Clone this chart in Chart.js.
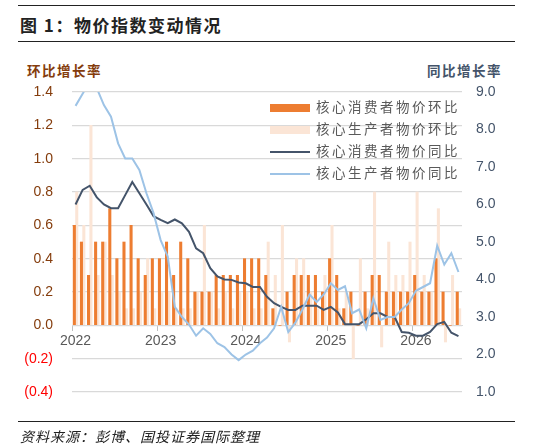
<!DOCTYPE html>
<html><head><meta charset="utf-8">
<script src="https://cdn.jsdelivr.net/npm/chart.js@4"></script>
<style>
body{margin:0;width:533px;height:447px;background:#fff;position:relative;overflow:hidden;font-family:"Noto Sans CJK SC",sans-serif}
.abs{position:absolute}
#c{position:absolute;left:0;top:0}
.lg{position:absolute;left:270px;font-size:13.5px;color:#595959;letter-spacing:2.5px;white-space:nowrap}
.sw{display:inline-block;width:40px;vertical-align:middle;margin-right:6px}
</style></head><body>
<div class="abs" style="left:18px;top:5px;width:497px;border-top:1.3px solid #222"></div>
<div class="abs" style="left:20px;top:12px;font-size:17px;font-weight:bold;color:#222;letter-spacing:1.5px">图 1：物价指数变动情况</div>
<div class="abs" style="left:18px;top:41px;width:497px;border-top:1.3px solid #222"></div>
<div class="abs" style="left:27px;top:60px;font-size:13.5px;font-weight:bold;color:#843C0C;letter-spacing:1.5px">环比增长率</div>
<div class="abs" style="left:427px;top:60px;font-size:13.5px;font-weight:bold;color:#44546A;letter-spacing:1.5px">同比增长率</div>
<canvas id="c" width="533" height="447"></canvas>
<div class="lg" style="top:96px"><span class="sw" style="height:8px;background:#ED7D31"></span>核心消费者物价环比</div>
<div class="lg" style="top:118px"><span class="sw" style="height:8px;background:#FBE5D6"></span>核心生产者物价环比</div>
<div class="lg" style="top:140px"><span class="sw" style="height:2px;background:#44546A"></span>核心消费者物价同比</div>
<div class="lg" style="top:162px"><span class="sw" style="height:2px;background:#9DC3E6"></span>核心生产者物价同比</div>
<div class="abs" style="left:18px;top:421px;width:497px;border-top:1.3px solid #222"></div>
<div class="abs" style="left:20px;top:426px;font-size:14px;font-style:italic;color:#222;letter-spacing:1px">资料来源：彭博、国投证券国际整理</div>
<script>
const years = ['2022','2023','2024','2025','2026'];
const months = [];
for (const y of years) for (let m = 1; m <= 12; m++) months.push(y + '-' + m);
const labels = months.slice(0, 55);
const cpiMoM = [0.6,0.5,0.3,0.5,0.5,0.7,0.4,0.5,0.6,0.4,0.3,0.4,
  0.4,0.5,0.3,0.5,0.4,0.2,0.2,0.2,0.3,0.3,0.3,0.3,
  0.4,0.4,0.4,0.3,0.1,0,0.2,0.3,0.3,0.3,0.3,0.2,
  0.4,0.3,0.1,0.2,0,0.2,0.3,0.3,0.2,0.2,0.2,0.2,
  0.3,0.2,0.2,0.4,0.2,0,0.2];
const ppiMoM = [0.8,0.6,1.2,0.3,0.5,0.3,0.2,0.1,0.1,0.2,0.4,0.1,
  0.2,0.2,0.1,0.1,0.1,0.2,0.6,0.2,0.1,0.2,0.1,0.2,
  0.2,0.1,0.1,0.5,0.3,0.6,-0.1,0.4,0.4,0.2,0.1,0.3,
  0.6,0.1,0.2,-0.2,0.4,0.1,0.8,-0.13,0.5,0.3,0.3,0.5,
  0.8,0.3,0.2,0.7,-0.1,0.3,0.1];
const cpiYoY = [6.0,6.39,6.5,6.19,6.0,5.9,5.9,6.25,6.6,6.3,6.0,5.69,
  5.59,5.5,5.6,5.5,5.27,4.83,4.7,4.3,4.08,4.0,3.99,3.92,
  3.9,3.8,3.8,3.54,3.37,3.27,3.19,3.19,3.3,3.3,3.3,3.19,
  3.27,3.12,2.81,2.81,2.81,2.94,3.1,3.1,3.0,3.0,2.6,2.58,
  2.5,2.5,2.6,2.81,2.87,2.58,2.49];
const ppiYoY = [8.63,8.95,9.3,9.1,8.65,8.34,7.63,7.23,7.23,6.92,6.3,5.77,
  5.05,4.61,3.27,3.0,2.8,2.5,2.7,2.55,2.3,2.2,2.0,1.85,
  2.0,2.1,2.3,2.45,2.7,3.27,2.6,2.85,3.2,3.6,3.4,3.6,
  3.9,3.72,3.82,3.1,3.2,2.7,3.5,2.92,3.0,3.0,3.2,3.37,
  3.7,3.8,3.9,4.9,4.4,4.7,4.2];
const leftTicks = [-0.4,-0.2,0,0.2,0.4,0.6,0.8,1.0,1.2,1.4];

new Chart(document.getElementById('c'), {
  data: {
    labels,
    datasets: [
      {type:'line', data:cpiYoY, yAxisID:'y1', borderColor:'#44546A', borderWidth:2, pointRadius:0, tension:0, order:1},
      {type:'line', data:ppiYoY, yAxisID:'y1', borderColor:'#9DC3E6', borderWidth:2, pointRadius:0, tension:0, order:0},
      {type:'bar', data:cpiMoM, yAxisID:'y', backgroundColor:'#ED7D31', barThickness:2.4, categoryPercentage:0.8, order:3},
      {type:'bar', data:ppiMoM, yAxisID:'y', backgroundColor:'#FBE5D6', barThickness:2.4, categoryPercentage:0.8, order:4}
    ]
  },
  options: {
    responsive:false, animation:false,
    layout:{padding:{left:0,right:0,top:92,bottom:55}},
    plugins:{legend:{display:false}, tooltip:{enabled:false}},
    scales:{
      x:{position:{y:0}, offset:true,
        grid:{offset:true, drawOnChartArea:false, tickLength:5, color:'#BFBFBF',
          tickColor:(c)=> (c.index % 12 === 0 ? '#BFBFBF' : 'rgba(0,0,0,0)')},
        border:{color:'#D9D9D9'},
        ticks:{autoSkip:false, maxRotation:0, color:'#595959', font:{size:14, family:'Liberation Sans'}, padding:2,
          callback:(v,i)=> (i % 12 === 0 ? labels[i].slice(0,4) : '')}},
      y:{position:'left', min:-0.4, max:1.4,
        afterFit:(s)=>{s.width=72;},
        afterBuildTicks:(s)=>{s.ticks = leftTicks.map(v=>({value:v}));},
        grid:{color:'#D9D9D9', lineWidth:1.3, drawTicks:false},
        border:{display:false},
        ticks:{padding:19, font:{size:14, family:'Liberation Sans'},
          color:(c)=> (c.tick.value < 0 ? '#FF0000' : '#843C0C'),
          callback:(v)=> v < 0 ? '(' + Math.abs(v).toFixed(1) + ')' : v.toFixed(1)}},
      y1:{position:'right', min:1, max:9,
        afterFit:(s)=>{s.width=71;},
        grid:{display:false, drawTicks:false}, border:{display:false},
        ticks:{stepSize:1, padding:14, color:'#44546A', font:{size:14, family:'Liberation Sans'},
          callback:(v)=> v.toFixed(1)}}
    }
  }
});
</script>
</body></html>
